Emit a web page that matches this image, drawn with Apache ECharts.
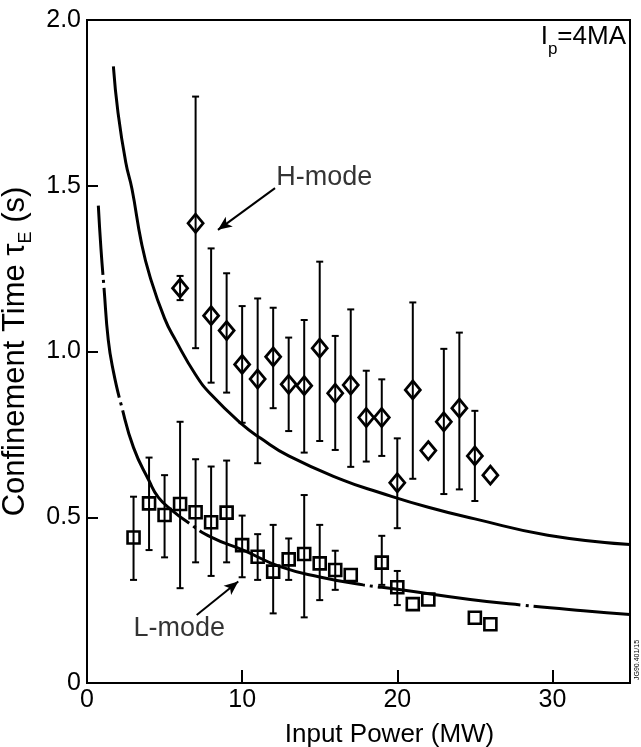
<!DOCTYPE html>
<html><head><meta charset="utf-8">
<script src="https://cdn.jsdelivr.net/npm/echarts/dist/echarts.min.js"></script>
<style>html,body{margin:0;padding:0;background:#fff}#c{width:641px;height:747px}</style>
</head><body><div id="c"></div>
<script>
// ---- data ----
const xTicks = [0, 10, 20, 30];
const yTicks = [0, 0.5, 1.0, 1.5, 2.0];

// H-mode (diamonds)
const hX    = [6, 7, 8, 9, 10, 11, 12, 13, 14, 15, 16, 17, 18, 19, 20, 21, 22, 23, 24, 25, 26];
const hY    = [1.191, 1.387, 1.108, 1.063, 0.961, 0.917, 0.984, 0.901, 0.897, 1.010, 0.874, 0.899, 0.801, 0.801, 0.604, 0.884, 0.701, 0.788, 0.829, 0.685, 0.627];
const hLow  = [1.155, 1.010, 0.906, 0.876, 0.785, 0.663, 0.829, 0.760, 0.695, 0.730, 0.703, 0.652, 0.668, 0.685, 0.467, 0.616, null, 0.570, 0.584, 0.549, null];
const hHigh = [1.228, 1.769, 1.311, 1.236, 1.137, 1.160, 1.132, 1.042, 1.095, 1.271, 1.047, 1.127, 0.942, 0.916, 0.738, 1.148, null, 1.008, 1.057, 0.821, null];

// L-mode (squares)
const lX    = [3, 4, 5, 6, 7, 8, 9, 10, 11, 12, 13, 14, 15, 16, 17, 19, 20, 21, 22, 25, 26];
const lY    = [0.439, 0.542, 0.507, 0.540, 0.515, 0.485, 0.514, 0.416, 0.381, 0.336, 0.373, 0.389, 0.361, 0.341, 0.326, 0.363, 0.289, 0.238, 0.252, 0.197, 0.177];
const lLow  = [0.311, 0.401, 0.379, 0.286, 0.364, 0.323, 0.364, 0.319, 0.311, 0.210, 0.311, 0.198, 0.250, 0.281, null, 0.296, 0.235, null, null, null, null];
const lHigh = [0.562, 0.680, 0.627, 0.788, 0.675, 0.653, 0.671, 0.505, 0.449, 0.477, 0.436, 0.567, 0.477, 0.399, null, 0.444, 0.338, null, null, null, null];

// fitted curves
const hCurveX = [1.7, 2.0, 2.5, 2.9, 3.5, 4.06, 5.0, 5.7, 7.0, 8.0, 10.0, 11.2, 13.0, 16.5, 18.9, 22.0, 25.0, 29.7, 35.0];
const hCurveY = [1.86, 1.72, 1.57, 1.49, 1.33, 1.226, 1.10, 1.035, 0.93, 0.87, 0.78, 0.738, 0.685, 0.612, 0.574, 0.53, 0.495, 0.446, 0.418];
const lCurveX = [0.73, 0.9, 1.1, 1.37, 1.7, 2.2, 3.0, 4.0, 4.6, 5.5, 6.43, 8.0, 10.07, 12.45, 15.0, 17.8, 20.0, 24.7, 28.0, 32.0, 35.0];
const lCurveY = [1.44, 1.31, 1.19, 1.035, 0.94, 0.84, 0.71, 0.61, 0.56, 0.52, 0.487, 0.44, 0.401, 0.351, 0.32, 0.296, 0.283, 0.252, 0.235, 0.218, 0.207];

const FONT = "'Liberation Sans', Arial, Helvetica, sans-serif";

const chart = echarts.init(document.getElementById('c'), null, {renderer: 'canvas'});

function zip(xs, ys) { return xs.map((x, i) => [x, ys[i]]); }

function errSeries(xs, lows, highs) {
  const data = [];
  xs.forEach((x, i) => { if (lows[i] != null) data.push([x, lows[i], highs[i]]); });
  return {
    type: 'custom', data, z: 3, silent: true,
    encode: {x: 0, y: [1, 2]},
    renderItem(params, api) {
      const x = api.value(0), lo = api.value(1), hi = api.value(2);
      const p1 = api.coord([x, lo]), p2 = api.coord([x, hi]);
      const w = 3.5;
      const st = {stroke: '#000', lineWidth: 2};
      return {type: 'group', children: [
        {type: 'line', shape: {x1: p1[0], y1: p1[1], x2: p2[0], y2: p2[1]}, style: st},
        {type: 'line', shape: {x1: p1[0] - w, y1: p1[1], x2: p1[0] + w, y2: p1[1]}, style: st},
        {type: 'line', shape: {x1: p2[0] - w, y1: p2[1], x2: p2[0] + w, y2: p2[1]}, style: st}
      ]};
    }
  };
}

const option = {
  animation: false,
  backgroundColor: '#fff',
  grid: {left: 87, right: 11, top: 20, bottom: 64, containLabel: false, outerBoundsMode: 'none',
    show: true, borderColor: '#000', borderWidth: 2, backgroundColor: 'transparent'},
  xAxis: {
    type: 'value', min: 0, max: 35, interval: 10,
    name: 'Input Power (MW)', nameLocation: 'middle', nameGap: 39,
    nameTextStyle: {fontFamily: FONT, fontSize: 26, color: '#000', padding: [0, 0, 0, 62]},
    axisLine: {show: true, lineStyle: {color: '#000', width: 2}},
    axisTick: {show: true, inside: true, length: 13, lineStyle: {color: '#000', width: 2}},
    axisLabel: {fontFamily: FONT, fontSize: 25, color: '#000', margin: 5, showMaxLabel: false,
      formatter: v => xTicks.includes(v) ? String(v) : ''},
    splitLine: {show: false}
  },
  yAxis: {
    type: 'value', min: 0, max: 2, interval: 0.5,
    name: 'Confinement Time τ{s|E} (s)', nameLocation: 'middle', nameGap: 39, nameRotate: 90,
    nameTextStyle: {fontFamily: FONT, fontSize: 31, color: '#000', lineHeight: 39,
      rich: {s: {fontFamily: FONT, fontSize: 18, color: '#000', lineHeight: 18, verticalAlign: 'bottom'}}},
    axisLine: {show: true, lineStyle: {color: '#000', width: 2}},
    axisTick: {show: true, inside: true, length: 11, lineStyle: {color: '#000', width: 2}},
    axisLabel: {fontFamily: FONT, fontSize: 25, color: '#000', margin: 6,
      formatter: v => yTicks.includes(v) ? (v === 0 ? '0' : v.toFixed(1)) : ''},
    splitLine: {show: false}
  },
  series: [
    {
      type: 'line', data: zip(hCurveX, hCurveY), smooth: true, symbol: 'none', z: 2, silent: true,
      lineStyle: {color: '#000', width: 3},
      markLine: {
        silent: true, symbol: ['none', 'arrow'], symbolSize: [9, 14], animation: false,
        label: {show: false},
        lineStyle: {color: '#000', width: 2, type: 'solid'},
        data: [
          [{coord: [12.12, 1.493]}, {coord: [8.44, 1.367]}],
          [{coord: [7.07, 0.205]}, {coord: [9.75, 0.306]}]
        ]
      }
    },
    {
      type: 'line', data: zip(lCurveX, lCurveY), smooth: true, symbol: 'none', z: 2, silent: true,
      lineStyle: {color: '#000', width: 3,
        type: [69.5, 5, 3, 5, 111, 5, 3, 5, 135, 5, 3, 5, 175, 5, 3, 5, 144, 5, 3, 5, 500, 0]}
    },
    errSeries(hX, hLow, hHigh),
    errSeries(lX, lLow, lHigh),
    {
      type: 'scatter', data: zip(hX, hY), symbol: 'diamond', symbolSize: [15, 18], z: 5, silent: true,
      itemStyle: {color: 'rgba(255,255,255,0)', borderColor: '#000', borderWidth: 2.8, opacity: 1}
    },
    {
      type: 'scatter', data: zip(lX, lY), symbol: 'rect', symbolSize: [12, 12], z: 5, silent: true,
      itemStyle: {color: 'rgba(255,255,255,0)', borderColor: '#000', borderWidth: 2.6, opacity: 1}
    },
    {
      type: 'scatter', symbolSize: 0, z: 6, silent: true,
      data: [[15.3, 1.526, 'H-mode'], [5.95, 0.163, 'L-mode']],
      label: {show: true, position: 'inside', formatter: p => p.data[2],
        fontFamily: FONT, fontSize: 27, color: '#000'}
    }
  ],
  graphic: [
    {
      type: 'text', right: 15, top: 24, silent: true,
      style: {
        text: '{a|I}{s|p}{a|=4MA}',
        rich: {
          a: {fontFamily: FONT, fontSize: 26, fill: '#000', lineHeight: 42, verticalAlign: 'middle'},
          s: {fontFamily: FONT, fontSize: 17, fill: '#000', lineHeight: 17, verticalAlign: 'bottom'}
        }
      }
    },
    {
      type: 'text', x: 634, y: 680, rotation: Math.PI / 2, silent: true,
      style: {text: 'JG90.401/15', fontFamily: FONT, fontSize: 7, fill: '#000'}
    }
  ]
};
chart.setOption(option);
</script>
</body></html>
